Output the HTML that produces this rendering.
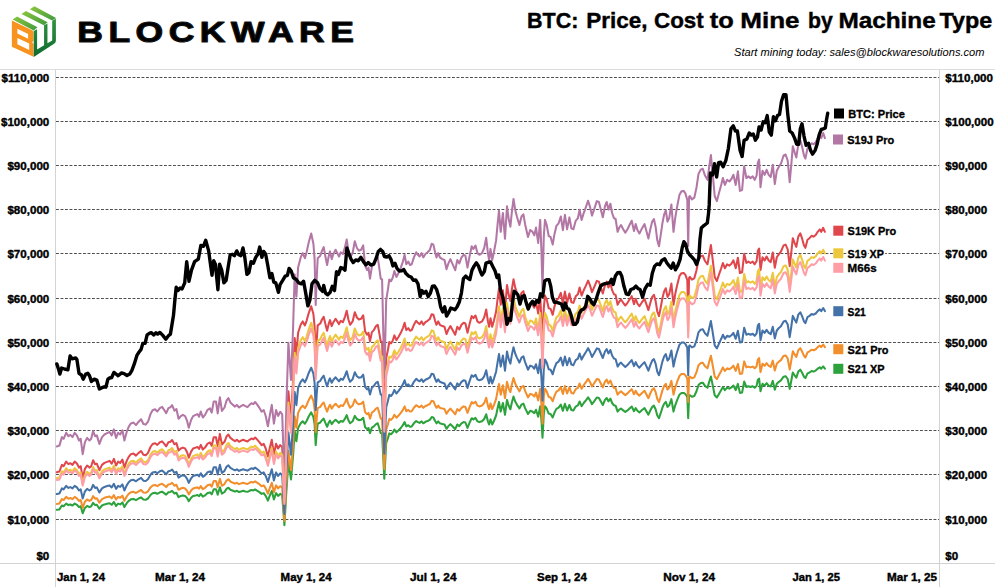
<!DOCTYPE html>
<html><head><meta charset="utf-8"><title>BTC: Price, Cost to Mine by Machine Type</title>
<style>
html,body{margin:0;padding:0;background:#fff;}
body{width:1000px;height:587px;overflow:hidden;font-family:"Liberation Sans",sans-serif;}
svg{display:block;}
text{font-family:"Liberation Sans",sans-serif;fill:#000;}
.ax{font-weight:bold;font-size:11.6px;stroke:#000;stroke-width:0.4px;}
.xl{font-weight:bold;font-size:11.3px;stroke:#000;stroke-width:0.4px;}
.lg{font-weight:bold;font-size:11.8px;stroke:#000;stroke-width:0.35px;}
.lh{font-weight:bold;font-size:11.8px;stroke:#fff;stroke-width:3.4px;stroke-linejoin:round;fill:#fff;}
.ln{fill:none;stroke-linejoin:round;stroke-linecap:round;stroke-width:2.05;}
</style></head><body>
<svg width="1000" height="587" viewBox="0 0 1000 587">
<rect width="1000" height="587" fill="#fff"/>
<defs>
<linearGradient id="gt" x1="0" y1="0" x2="1" y2="1"><stop offset="0" stop-color="#8cc63f"/><stop offset="1" stop-color="#3f9b3c"/></linearGradient>
<linearGradient id="gs" x1="0" y1="0" x2="0" y2="1"><stop offset="0" stop-color="#2f9440"/><stop offset="1" stop-color="#0f6b30"/></linearGradient>
</defs>
<g transform="translate(5,0) scale(0.1056)">
<path fill="#f7931e" fill-rule="evenodd" d="M65,195 L262,290 L270,302 L270,385 L257,400 L270,416 L270,538 L65,442 Z M117,272 L219,321 L219,367 L117,318 Z M117,359 L229,413 L229,473 L117,419 Z"/>
<path fill="url(#gt)" d="M72,184 L114,156 L308,258 L272,290 Z"/>
<path fill="url(#gt)" d="M156,133 L198,105 L404,211 L368,238 Z"/>
<path fill="url(#gt)" d="M236,88 L278,60 L484,170 L447,194 Z"/>
<path fill="url(#gs)" d="M272,294 L304,276 L304,468 L370,428 L370,240 L402,222 L402,410 L447,383 L447,196 L482,178 L482,385 Q482,402 468,412 L272,540 Z"/>
</g>
<g transform="translate(77.3,42.2) scale(1.215,1)"><text x="0" y="0" font-size="29.2" font-weight="bold" textLength="227.6" lengthAdjust="spacing" stroke="#111" stroke-width="1.1" stroke-linejoin="round" fill="#111">BLOCKWARE</text></g>
<text x="527.0" y="28.4" font-size="21.8" font-weight="bold" stroke="#000" stroke-width="0.4" textLength="51.4" lengthAdjust="spacingAndGlyphs">BTC:</text><text x="586.2" y="28.4" font-size="21.8" font-weight="bold" stroke="#000" stroke-width="0.4" textLength="61.3" lengthAdjust="spacingAndGlyphs">Price,</text><text x="654.0" y="28.4" font-size="21.8" font-weight="bold" stroke="#000" stroke-width="0.4" textLength="49.8" lengthAdjust="spacingAndGlyphs">Cost</text><text x="709.8" y="28.4" font-size="21.8" font-weight="bold" stroke="#000" stroke-width="0.4" textLength="24.0" lengthAdjust="spacingAndGlyphs">to</text><text x="740.3" y="28.4" font-size="21.8" font-weight="bold" stroke="#000" stroke-width="0.4" textLength="59.3" lengthAdjust="spacingAndGlyphs">Mine</text><text x="808.0" y="28.4" font-size="21.8" font-weight="bold" stroke="#000" stroke-width="0.4" textLength="24.8" lengthAdjust="spacingAndGlyphs">by</text><text x="838.4" y="28.4" font-size="21.8" font-weight="bold" stroke="#000" stroke-width="0.4" textLength="97.4" lengthAdjust="spacingAndGlyphs">Machine</text><text x="939.5" y="28.4" font-size="21.8" font-weight="bold" stroke="#000" stroke-width="0.4" textLength="52.8" lengthAdjust="spacingAndGlyphs">Type</text>
<text x="734" y="55.8" font-size="11.8" font-style="italic" textLength="250.5" lengthAdjust="spacingAndGlyphs" fill="#111">Start mining today: sales@blockwaresolutions.com</text>
<g stroke="#d3d3d3" stroke-width="1" fill="none" shape-rendering="crispEdges"><line x1="0" y1="69.5" x2="995" y2="69.5" stroke="#dcdcdc"/><line x1="0" y1="563.5" x2="995" y2="563.5"/><line x1="55.5" y1="69.5" x2="55.5" y2="587"/><line x1="939.5" y1="69.5" x2="939.5" y2="587"/></g>
<g stroke="#505050" stroke-width="1.2" stroke-dasharray="2.9 1.6" fill="none"><line x1="56" y1="77.5" x2="939" y2="77.5"/><line x1="56" y1="121.5" x2="939" y2="121.5"/><line x1="56" y1="165.5" x2="939" y2="165.5"/><line x1="56" y1="209.5" x2="939" y2="209.5"/><line x1="56" y1="253.5" x2="939" y2="253.5"/><line x1="56" y1="298.5" x2="939" y2="298.5"/><line x1="56" y1="342.5" x2="939" y2="342.5"/><line x1="56" y1="386.5" x2="939" y2="386.5"/><line x1="56" y1="430.5" x2="939" y2="430.5"/><line x1="56" y1="474.5" x2="939" y2="474.5"/><line x1="56" y1="519.5" x2="939" y2="519.5"/></g>
<text class="ax" x="49.3" y="81.6" text-anchor="end">$110,000</text><text class="ax" x="945.3" y="81.6">$110,000</text><text class="ax" x="49.3" y="125.6" text-anchor="end">$100,000</text><text class="ax" x="945.3" y="125.6">$100,000</text><text class="ax" x="49.3" y="169.6" text-anchor="end">$90,000</text><text class="ax" x="945.3" y="169.6">$90,000</text><text class="ax" x="49.3" y="213.6" text-anchor="end">$80,000</text><text class="ax" x="945.3" y="213.6">$80,000</text><text class="ax" x="49.3" y="257.6" text-anchor="end">$70,000</text><text class="ax" x="945.3" y="257.6">$70,000</text><text class="ax" x="49.3" y="302.6" text-anchor="end">$60,000</text><text class="ax" x="945.3" y="302.6">$60,000</text><text class="ax" x="49.3" y="346.6" text-anchor="end">$50,000</text><text class="ax" x="945.3" y="346.6">$50,000</text><text class="ax" x="49.3" y="390.6" text-anchor="end">$40,000</text><text class="ax" x="945.3" y="390.6">$40,000</text><text class="ax" x="49.3" y="434.6" text-anchor="end">$30,000</text><text class="ax" x="945.3" y="434.6">$30,000</text><text class="ax" x="49.3" y="478.6" text-anchor="end">$20,000</text><text class="ax" x="945.3" y="478.6">$20,000</text><text class="ax" x="49.3" y="523.6" text-anchor="end">$10,000</text><text class="ax" x="945.3" y="523.6">$10,000</text><text class="ax" x="49.3" y="560.3" text-anchor="end">$0</text><text class="ax" x="945.3" y="560.3">$0</text>
<text class="xl" x="57" y="581" textLength="48.0" lengthAdjust="spacingAndGlyphs">Jan 1, 24</text><text class="xl" x="155" y="581" textLength="50.0" lengthAdjust="spacingAndGlyphs">Mar 1, 24</text><text class="xl" x="280.6" y="581" textLength="51.0" lengthAdjust="spacingAndGlyphs">May 1, 24</text><text class="xl" x="409.9" y="581" textLength="46.6" lengthAdjust="spacingAndGlyphs">Jul 1, 24</text><text class="xl" x="537.1" y="581" textLength="49.7" lengthAdjust="spacingAndGlyphs">Sep 1, 24</text><text class="xl" x="663.3" y="581" textLength="51.7" lengthAdjust="spacingAndGlyphs">Nov 1, 24</text><text class="xl" x="792.6" y="581" textLength="47.4" lengthAdjust="spacingAndGlyphs">Jan 1, 25</text><text class="xl" x="887" y="581" textLength="50.0" lengthAdjust="spacingAndGlyphs">Mar 1, 25</text>
<path class="ln" stroke="#2ca23c" d="M56.8,509.8 L59.4,509.4 L61.9,505.5 L63.6,506.3 L66.2,503.6 L68.4,505.1 L70.4,504.5 L72.5,505.5 L74.7,503.6 L76.9,504.8 L79.0,507.1 L80.7,506.3 L82.7,513.3 L84.9,507.9 L87.1,505.9 L89.5,507.1 L91.2,506.3 L93.1,502.8 L95.1,505.1 L96.8,504.8 L99.4,508.7 L102.0,505.5 L104.5,504.4 L107.1,503.8 L109.6,503.2 L111.7,504.8 L113.9,502.0 L116.1,505.9 L118.1,503.6 L120.2,504.4 L122.4,502.4 L124.4,507.1 L126.7,503.2 L128.7,500.8 L130.9,499.3 L133.5,498.9 L136.0,500.1 L138.6,498.5 L141.1,497.4 L143.4,499.6 L145.7,499.8 L148.0,498.5 L150.5,495.0 L152.6,493.3 L155.1,492.8 L157.3,493.8 L159.9,492.3 L162.1,491.7 L164.1,493.1 L166.2,494.6 L168.4,492.3 L170.4,491.9 L172.1,490.9 L174.4,493.5 L176.4,492.7 L178.6,497.2 L180.8,495.9 L182.9,495.4 L185.1,495.9 L187.1,498.1 L188.8,501.2 L191.1,497.7 L193.1,495.9 L195.7,495.4 L197.4,495.0 L199.1,496.2 L200.8,493.8 L202.8,496.6 L205.0,495.4 L207.6,493.1 L210.0,492.4 L211.7,494.3 L213.7,489.3 L216.0,489.3 L217.7,494.7 L219.9,487.3 L221.9,493.6 L224.5,492.0 L226.5,488.9 L228.4,487.7 L230.4,489.7 L233.0,490.8 L235.0,491.6 L236.9,490.8 L239.0,492.0 L241.0,491.4 L243.2,490.8 L245.4,491.4 L247.5,491.8 L249.5,490.8 L251.4,490.0 L253.4,490.4 L255.1,489.5 L257.4,490.8 L259.4,492.1 L261.6,493.9 L263.7,493.1 L265.7,495.9 L267.9,500.6 L270.0,495.1 L271.8,490.8 L273.9,499.4 L276.1,493.1 L278.1,495.9 L280.2,493.9 L282.2,495.1 L284.4,525.2 L286.4,490.9 L288.4,462.3 L291.0,479.4 L293.0,456.5 L294.7,431.1 L296.4,441.3 L298.1,428.0 L300.7,423.3 L302.7,421.3 L304.9,423.7 L306.6,421.0 L308.8,416.3 L311.2,412.4 L313.4,417.0 L314.6,424.1 L315.7,445.1 L316.8,431.9 L317.7,423.7 L320.3,422.5 L322.0,420.2 L323.7,418.6 L325.4,422.9 L327.1,426.8 L328.8,422.5 L330.0,420.6 L331.7,424.1 L333.4,421.8 L335.6,419.8 L337.3,421.3 L339.0,422.9 L340.7,421.0 L342.9,421.8 L345.0,418.6 L346.7,415.1 L348.4,420.2 L350.1,423.3 L352.6,421.3 L354.8,415.9 L356.9,419.0 L358.9,420.2 L361.1,419.8 L363.2,417.8 L365.1,427.2 L367.1,429.1 L368.5,428.0 L370.0,433.1 L371.9,427.6 L373.9,426.4 L376.0,424.1 L377.7,423.3 L379.0,427.2 L380.7,433.1 L382.1,433.4 L384.3,478.7 L386.2,442.8 L387.9,438.1 L389.3,433.4 L391.0,434.2 L392.7,432.6 L394.4,429.5 L396.4,432.3 L398.6,430.3 L400.8,428.0 L402.9,425.2 L404.6,422.1 L406.3,426.4 L408.3,425.2 L410.0,426.8 L411.7,426.4 L413.9,423.3 L416.2,421.0 L417.9,422.1 L419.6,422.9 L421.6,421.3 L423.3,423.3 L425.4,421.8 L427.6,421.0 L429.8,419.9 L431.7,417.1 L433.4,417.5 L435.1,421.0 L436.5,423.3 L438.2,421.3 L439.9,423.3 L442.3,424.1 L444.5,424.5 L446.5,428.8 L448.4,426.1 L450.4,424.1 L453.0,426.8 L455.2,429.2 L457.3,424.5 L459.3,426.1 L461.5,423.3 L463.6,422.1 L465.4,422.5 L467.5,428.0 L469.5,422.9 L471.7,418.2 L473.4,419.4 L475.5,417.9 L477.4,421.3 L479.4,422.1 L482.0,421.3 L484.2,419.0 L486.2,414.3 L487.9,421.3 L489.1,424.5 L490.5,419.4 L492.2,424.5 L493.9,421.0 L496.1,415.5 L497.6,408.1 L499.0,401.9 L500.7,411.6 L502.9,403.0 L505.0,414.8 L507.0,399.9 L508.7,405.8 L510.4,409.3 L511.8,402.7 L513.5,396.6 L515.2,401.5 L516.9,404.6 L519.4,408.5 L521.5,404.6 L523.4,403.6 L525.1,408.1 L528.0,414.0 L530.2,410.8 L532.2,411.4 L534.3,413.2 L536.0,409.7 L538.2,416.7 L540.2,406.2 L541.4,419.9 L542.5,437.8 L543.8,413.6 L545.0,406.2 L546.7,408.5 L548.7,413.6 L550.6,414.0 L552.7,417.5 L554.4,412.8 L556.4,408.9 L558.6,407.7 L560.8,404.6 L562.9,410.8 L564.9,403.8 L567.1,410.5 L569.4,405.0 L571.4,410.0 L573.4,410.5 L575.7,406.6 L577.9,405.4 L579.6,401.5 L581.6,406.2 L583.7,403.0 L585.9,400.3 L588.1,397.4 L590.1,400.3 L592.0,404.2 L594.3,401.1 L596.8,397.5 L598.9,398.0 L600.6,401.1 L602.8,405.0 L605.0,399.9 L606.7,398.0 L608.4,401.4 L610.4,398.7 L612.1,403.0 L613.9,405.3 L615.6,405.7 L617.6,411.6 L619.3,409.6 L621.0,408.5 L623.2,410.4 L625.3,412.0 L627.5,410.4 L629.5,408.5 L631.7,406.5 L634.0,411.2 L635.7,408.1 L637.4,410.8 L639.4,412.4 L642.0,410.0 L644.5,408.1 L646.6,411.6 L648.4,414.7 L650.5,410.0 L652.2,406.9 L653.9,405.7 L655.6,409.3 L657.3,415.5 L659.0,418.2 L660.7,413.2 L662.4,407.7 L664.1,403.8 L665.8,401.8 L667.5,406.9 L669.2,405.3 L671.4,399.1 L673.5,411.6 L675.2,405.3 L677.2,399.9 L679.4,394.8 L681.5,393.0 L683.7,392.9 L685.4,394.0 L687.3,397.0 L688.2,418.1 L689.1,395.7 L689.9,395.2 L691.9,396.8 L694.3,396.0 L696.5,391.3 L698.5,385.1 L700.7,383.1 L702.8,382.7 L705.0,385.9 L707.5,387.8 L709.2,381.9 L710.9,376.5 L712.7,385.1 L714.7,395.2 L716.9,397.5 L719.1,393.7 L721.2,390.1 L722.9,387.0 L724.9,390.1 L727.1,387.8 L729.4,388.6 L731.4,387.4 L733.4,385.5 L735.7,390.1 L737.9,383.9 L739.9,392.9 L742.1,392.5 L744.2,381.6 L746.4,387.0 L748.4,386.2 L750.5,387.0 L752.7,386.2 L754.7,387.8 L756.6,385.9 L757.8,380.0 L759.1,378.6 L760.5,391.2 L762.5,383.7 L764.6,385.6 L766.6,383.2 L768.7,385.6 L770.7,386.5 L772.8,380.9 L774.8,389.8 L776.8,383.7 L778.9,381.8 L780.9,380.4 L783.6,376.7 L785.6,376.2 L787.7,379.0 L789.7,388.9 L791.1,381.8 L792.8,372.5 L794.6,375.3 L796.3,377.6 L798.3,371.6 L800.3,369.7 L802.0,372.5 L804.0,376.7 L805.4,378.1 L807.5,373.4 L809.5,372.5 L811.6,371.1 L813.6,371.6 L815.7,370.6 L817.7,368.7 L819.8,367.3 L821.2,368.7 L823.2,366.4 L824.9,368.7"/>
<path class="ln" stroke="#f28e2b" d="M56.8,503.9 L59.4,503.5 L61.9,499.1 L63.6,500.0 L66.2,496.9 L68.4,498.7 L70.4,498.0 L72.5,499.1 L74.7,496.9 L76.9,498.3 L79.0,500.9 L80.7,500.0 L82.7,507.8 L84.9,501.7 L87.1,499.5 L89.5,500.9 L91.2,500.0 L93.1,496.1 L95.1,498.7 L96.8,498.3 L99.4,502.6 L102.0,499.1 L104.5,497.8 L107.1,497.1 L109.6,496.5 L111.7,498.3 L113.9,495.2 L116.1,499.5 L118.1,496.9 L120.2,497.8 L122.4,495.7 L124.4,500.9 L126.7,496.5 L128.7,493.9 L130.9,492.2 L133.5,491.8 L136.0,493.0 L138.6,491.3 L141.1,490.0 L143.4,492.5 L145.7,492.8 L148.0,491.3 L150.5,487.4 L152.6,485.5 L155.1,485.0 L157.3,486.1 L159.9,484.4 L162.1,483.8 L164.1,485.2 L166.2,487.0 L168.4,484.4 L170.4,484.0 L172.1,482.9 L174.4,485.7 L176.4,484.8 L178.6,489.8 L180.8,488.5 L182.9,487.8 L185.1,488.5 L187.1,490.9 L188.8,494.4 L191.1,490.4 L193.1,488.5 L195.7,487.8 L197.4,487.4 L199.1,488.7 L200.8,486.1 L202.8,489.2 L205.0,487.8 L207.6,485.2 L210.0,484.5 L211.7,486.7 L213.7,481.0 L216.0,481.0 L217.7,487.1 L219.9,478.9 L221.9,485.8 L224.5,484.1 L226.5,480.6 L228.4,479.3 L230.4,481.5 L233.0,482.8 L235.0,483.6 L236.9,482.8 L239.0,484.1 L241.0,483.4 L243.2,482.8 L245.4,483.4 L247.5,483.9 L249.5,482.8 L251.4,481.9 L253.4,482.4 L255.1,481.3 L257.4,482.8 L259.4,484.2 L261.6,486.2 L263.7,485.4 L265.7,488.4 L267.9,493.6 L270.0,487.5 L271.8,482.8 L273.9,492.3 L276.1,485.4 L278.1,488.4 L280.2,486.2 L282.2,487.5 L284.4,520.9 L286.4,482.8 L288.4,451.1 L291.0,470.1 L293.0,444.7 L294.7,416.4 L296.4,427.7 L298.1,412.9 L300.7,407.8 L302.7,405.6 L304.9,408.2 L306.6,405.2 L308.8,399.9 L311.2,395.6 L313.4,400.8 L314.6,408.6 L315.7,432.0 L316.8,417.3 L317.7,408.2 L320.3,406.9 L322.0,404.3 L323.7,402.5 L325.4,407.3 L327.1,411.6 L328.8,406.9 L330.0,404.7 L331.7,408.6 L333.4,406.0 L335.6,403.8 L337.3,405.6 L339.0,407.3 L340.7,405.2 L342.9,406.0 L345.0,402.5 L346.7,398.7 L348.4,404.3 L350.1,407.8 L352.6,405.6 L354.8,399.5 L356.9,403.0 L358.9,404.3 L361.1,403.8 L363.2,401.7 L365.1,412.1 L367.1,414.2 L368.5,412.9 L370.0,418.6 L371.9,412.5 L373.9,411.2 L376.0,408.6 L377.7,407.8 L379.0,412.1 L380.7,418.6 L382.1,419.0 L384.3,469.3 L386.2,429.4 L387.9,424.2 L389.3,419.0 L391.0,419.9 L392.7,418.1 L394.4,414.7 L396.4,417.7 L398.6,415.5 L400.8,412.9 L402.9,409.9 L404.6,406.4 L406.3,411.2 L408.3,409.9 L410.0,411.6 L411.7,411.2 L413.9,407.8 L416.2,405.2 L417.9,406.4 L419.6,407.3 L421.6,405.6 L423.3,407.8 L425.4,406.0 L427.6,405.2 L429.8,404.0 L431.7,400.8 L433.4,401.2 L435.1,405.2 L436.5,407.8 L438.2,405.6 L439.9,407.8 L442.3,408.6 L444.5,409.1 L446.5,413.8 L448.4,410.8 L450.4,408.6 L453.0,411.7 L455.2,414.3 L457.3,409.1 L459.3,410.8 L461.5,407.8 L463.6,406.4 L465.4,406.9 L467.5,412.9 L469.5,407.4 L471.7,402.1 L473.4,403.4 L475.5,401.7 L477.4,405.6 L479.4,406.4 L482.0,405.6 L484.2,403.0 L486.2,397.8 L487.9,405.6 L489.1,409.1 L490.5,403.4 L492.2,409.1 L493.9,405.2 L496.1,399.1 L497.6,390.9 L499.0,384.0 L500.7,394.7 L502.9,385.2 L505.0,398.2 L507.0,381.8 L508.7,388.3 L510.4,392.1 L511.8,384.8 L513.5,378.1 L515.2,383.5 L516.9,387.0 L519.4,391.3 L521.5,387.0 L523.4,385.8 L525.1,390.9 L528.0,397.4 L530.2,393.9 L532.2,394.5 L534.3,396.5 L536.0,392.6 L538.2,400.4 L540.2,388.7 L541.4,404.0 L542.5,423.8 L543.8,396.9 L545.0,388.7 L546.7,391.3 L548.7,396.9 L550.6,397.4 L552.7,401.2 L554.4,396.1 L556.4,391.7 L558.6,390.4 L560.8,387.0 L562.9,393.9 L564.9,386.1 L567.1,393.5 L569.4,387.4 L571.4,393.0 L573.4,393.5 L575.7,389.1 L577.9,387.8 L579.6,383.5 L581.6,388.7 L583.7,385.2 L585.9,382.2 L588.1,378.9 L590.1,382.2 L592.0,386.5 L594.3,383.0 L596.8,379.1 L598.9,379.6 L600.6,383.0 L602.8,387.4 L605.0,381.7 L606.7,379.6 L608.4,383.5 L610.4,380.5 L612.1,385.2 L613.9,387.8 L615.6,388.2 L617.6,394.7 L619.3,392.6 L621.0,391.3 L623.2,393.4 L625.3,395.1 L627.5,393.4 L629.5,391.3 L631.7,389.1 L634.0,394.3 L635.7,390.8 L637.4,393.9 L639.4,395.6 L642.0,393.0 L644.5,390.8 L646.6,394.7 L648.4,398.2 L650.5,393.0 L652.2,389.6 L653.9,388.2 L655.6,392.1 L657.3,399.1 L659.0,402.1 L660.7,396.5 L662.4,390.4 L664.1,386.0 L665.8,383.9 L667.5,389.6 L669.2,387.8 L671.4,380.9 L673.5,394.7 L675.2,387.8 L677.2,381.7 L679.4,376.1 L681.5,374.1 L683.7,373.9 L685.4,375.2 L687.3,378.6 L688.2,402.0 L689.1,377.0 L689.9,376.5 L691.9,378.3 L694.3,377.4 L696.5,372.2 L698.5,365.3 L700.7,363.1 L702.8,362.7 L705.0,366.2 L707.5,368.3 L709.2,361.8 L710.9,355.7 L712.7,365.3 L714.7,376.5 L716.9,379.1 L719.1,374.8 L721.2,370.9 L722.9,367.4 L724.9,370.9 L727.1,368.3 L729.4,369.2 L731.4,367.9 L733.4,365.7 L735.7,370.9 L737.9,364.0 L739.9,373.9 L742.1,373.5 L744.2,361.4 L746.4,367.4 L748.4,366.6 L750.5,367.4 L752.7,366.6 L754.7,368.3 L756.6,366.2 L757.8,359.7 L759.1,358.0 L760.5,372.1 L762.5,363.7 L764.6,365.8 L766.6,363.2 L768.7,365.8 L770.7,366.9 L772.8,360.6 L774.8,370.5 L776.8,363.7 L778.9,361.6 L780.9,360.1 L783.6,355.9 L785.6,355.4 L787.7,358.5 L789.7,369.5 L791.1,361.6 L792.8,351.3 L794.6,354.4 L796.3,357.0 L798.3,350.2 L800.3,348.2 L802.0,351.3 L804.0,355.9 L805.4,357.5 L807.5,352.3 L809.5,351.3 L811.6,349.7 L813.6,350.2 L815.7,349.2 L817.7,347.1 L819.8,345.6 L821.2,347.1 L823.2,344.5 L824.9,347.1"/>
<path class="ln" stroke="#4472a8" d="M56.8,494.0 L59.4,493.5 L61.9,488.4 L63.6,489.4 L66.2,485.9 L68.4,487.9 L70.4,487.1 L72.5,488.4 L74.7,485.9 L76.9,487.4 L79.0,490.5 L80.7,489.4 L82.7,498.5 L84.9,491.5 L87.1,488.9 L89.5,490.5 L91.2,489.4 L93.1,484.9 L95.1,487.9 L96.8,487.4 L99.4,492.5 L102.0,488.4 L104.5,486.9 L107.1,486.1 L109.6,485.4 L111.7,487.4 L113.9,483.9 L116.1,488.9 L118.1,485.9 L120.2,486.9 L122.4,484.4 L124.4,490.5 L126.7,485.4 L128.7,482.3 L130.9,480.3 L133.5,479.8 L136.0,481.3 L138.6,479.3 L141.1,477.8 L143.4,480.7 L145.7,481.0 L148.0,479.3 L150.5,474.8 L152.6,472.5 L155.1,471.9 L157.3,473.2 L159.9,471.2 L162.1,470.5 L164.1,472.2 L166.2,474.3 L168.4,471.2 L170.4,470.8 L172.1,469.5 L174.4,472.8 L176.4,471.8 L178.6,477.6 L180.8,476.0 L182.9,475.3 L185.1,476.0 L187.1,478.8 L188.8,482.9 L191.1,478.3 L193.1,476.0 L195.7,475.3 L197.4,474.8 L199.1,476.3 L200.8,473.2 L202.8,476.8 L205.0,475.3 L207.6,472.2 L210.0,471.4 L211.7,473.9 L213.7,467.3 L216.0,467.3 L217.7,474.4 L219.9,464.8 L221.9,472.9 L224.5,470.9 L226.5,466.8 L228.4,465.3 L230.4,467.9 L233.0,469.3 L235.0,470.3 L236.9,469.3 L239.0,470.9 L241.0,470.0 L243.2,469.3 L245.4,470.0 L247.5,470.6 L249.5,469.3 L251.4,468.3 L253.4,468.9 L255.1,467.6 L257.4,469.3 L259.4,471.1 L261.6,473.4 L263.7,472.4 L265.7,475.9 L267.9,482.0 L270.0,474.9 L271.8,469.3 L273.9,480.5 L276.1,472.4 L278.1,475.9 L280.2,473.4 L282.2,474.9 L284.4,513.9 L286.4,469.4 L288.4,432.4 L291.0,454.6 L293.0,424.9 L294.7,391.9 L296.4,405.1 L298.1,387.9 L300.7,381.8 L302.7,379.3 L304.9,382.3 L306.6,378.8 L308.8,372.7 L311.2,367.7 L313.4,373.7 L314.6,382.8 L315.7,410.1 L316.8,392.9 L317.7,382.3 L320.3,380.8 L322.0,377.8 L323.7,375.7 L325.4,381.3 L327.1,386.3 L328.8,380.8 L330.0,378.3 L331.7,382.8 L333.4,379.8 L335.6,377.3 L337.3,379.3 L339.0,381.3 L340.7,378.8 L342.9,379.8 L345.0,375.7 L346.7,371.2 L348.4,377.8 L350.1,381.8 L352.6,379.3 L354.8,372.2 L356.9,376.3 L358.9,377.8 L361.1,377.3 L363.2,374.7 L365.1,386.9 L367.1,389.4 L368.5,387.9 L370.0,394.5 L371.9,387.4 L373.9,385.9 L376.0,382.8 L377.7,381.8 L379.0,386.9 L380.7,394.5 L382.1,394.9 L384.3,453.7 L386.2,407.1 L387.9,401.0 L389.3,394.9 L391.0,396.0 L392.7,393.9 L394.4,389.9 L396.4,393.5 L398.6,390.9 L400.8,387.9 L402.9,384.3 L404.6,380.3 L406.3,385.9 L408.3,384.3 L410.0,386.3 L411.7,385.9 L413.9,381.8 L416.2,378.8 L417.9,380.3 L419.6,381.3 L421.6,379.3 L423.3,381.8 L425.4,379.8 L427.6,378.8 L429.8,377.4 L431.7,373.8 L433.4,374.2 L435.1,378.8 L436.5,381.8 L438.2,379.3 L439.9,381.8 L442.3,382.8 L444.5,383.4 L446.5,388.9 L448.4,385.4 L450.4,382.8 L453.0,386.4 L455.2,389.4 L457.3,383.4 L459.3,385.4 L461.5,381.8 L463.6,380.3 L465.4,380.8 L467.5,387.9 L469.5,381.4 L471.7,375.2 L473.4,376.8 L475.5,374.8 L477.4,379.3 L479.4,380.3 L482.0,379.3 L484.2,376.3 L486.2,370.2 L487.9,379.3 L489.1,383.4 L490.5,376.8 L492.2,383.4 L493.9,378.8 L496.1,371.7 L497.6,362.1 L499.0,354.1 L500.7,366.6 L502.9,355.6 L505.0,370.7 L507.0,351.5 L508.7,359.1 L510.4,363.6 L511.8,355.1 L513.5,347.2 L515.2,353.5 L516.9,357.6 L519.4,362.6 L521.5,357.6 L523.4,356.3 L525.1,362.1 L528.0,369.7 L530.2,365.6 L532.2,366.4 L534.3,368.7 L536.0,364.2 L538.2,373.2 L540.2,359.6 L541.4,377.4 L542.5,400.6 L543.8,369.2 L545.0,359.6 L546.7,362.6 L548.7,369.2 L550.6,369.7 L552.7,374.2 L554.4,368.2 L556.4,363.1 L558.6,361.6 L560.8,357.6 L562.9,365.6 L564.9,356.6 L567.1,365.2 L569.4,358.1 L571.4,364.6 L573.4,365.2 L575.7,360.1 L577.9,358.6 L579.6,353.5 L581.6,359.6 L583.7,355.6 L585.9,352.0 L588.1,348.2 L590.1,352.0 L592.0,357.0 L594.3,353.0 L596.8,348.4 L598.9,349.0 L600.6,353.0 L602.8,358.0 L605.0,351.5 L606.7,349.0 L608.4,353.5 L610.4,350.0 L612.1,355.5 L613.9,358.5 L615.6,359.1 L617.6,366.6 L619.3,364.1 L621.0,362.6 L623.2,365.1 L625.3,367.1 L627.5,365.1 L629.5,362.6 L631.7,360.1 L634.0,366.1 L635.7,362.1 L637.4,365.6 L639.4,367.7 L642.0,364.6 L644.5,362.1 L646.6,366.6 L648.4,370.7 L650.5,364.6 L652.2,360.6 L653.9,359.1 L655.6,363.6 L657.3,371.7 L659.0,375.2 L660.7,368.7 L662.4,361.6 L664.1,356.5 L665.8,354.0 L667.5,360.6 L669.2,358.5 L671.4,350.5 L673.5,366.6 L675.2,358.5 L677.2,351.5 L679.4,344.9 L681.5,342.6 L683.7,342.4 L685.4,343.9 L687.3,347.8 L688.2,375.1 L689.1,346.0 L689.9,345.4 L691.9,347.4 L694.3,346.4 L696.5,340.4 L698.5,332.3 L700.7,329.7 L702.8,329.2 L705.0,333.3 L707.5,335.8 L709.2,328.2 L710.9,321.1 L712.7,332.3 L714.7,345.4 L716.9,348.4 L719.1,343.4 L721.2,338.8 L722.9,334.8 L724.9,338.8 L727.1,335.8 L729.4,336.8 L731.4,335.3 L733.4,332.8 L735.7,338.8 L737.9,330.8 L739.9,342.4 L742.1,341.9 L744.2,327.7 L746.4,334.8 L748.4,333.8 L750.5,334.8 L752.7,333.8 L754.7,335.8 L756.6,333.3 L757.8,325.7 L759.1,323.8 L760.5,340.2 L762.5,330.5 L764.6,332.9 L766.6,329.9 L768.7,332.9 L770.7,334.1 L772.8,326.8 L774.8,338.4 L776.8,330.5 L778.9,328.0 L780.9,326.2 L783.6,321.4 L785.6,320.8 L787.7,324.4 L789.7,337.2 L791.1,328.0 L792.8,315.9 L794.6,319.5 L796.3,322.6 L798.3,314.7 L800.3,312.3 L802.0,315.9 L804.0,321.4 L805.4,323.2 L807.5,317.1 L809.5,315.9 L811.6,314.1 L813.6,314.7 L815.7,313.5 L817.7,311.1 L819.8,309.3 L821.2,311.1 L823.2,308.0 L824.9,311.1"/>
<path class="ln" stroke="#e0474c" d="M56.8,472.2 L59.4,471.5 L61.9,464.9 L63.6,466.2 L66.2,461.6 L68.4,464.2 L70.4,463.2 L72.5,464.9 L74.7,461.6 L76.9,463.6 L79.0,467.6 L80.7,466.2 L82.7,478.2 L84.9,468.9 L87.1,465.5 L89.5,467.6 L91.2,466.2 L93.1,460.2 L95.1,464.2 L96.8,463.6 L99.4,470.2 L102.0,464.9 L104.5,462.9 L107.1,461.9 L109.6,460.9 L111.7,463.6 L113.9,458.9 L116.1,465.5 L118.1,461.6 L120.2,462.9 L122.4,459.6 L124.4,467.6 L126.7,460.9 L128.7,456.9 L130.9,454.2 L133.5,453.6 L136.0,455.6 L138.6,452.9 L141.1,451.0 L143.4,454.7 L145.7,455.2 L148.0,452.9 L150.5,447.0 L152.6,444.0 L155.1,443.2 L157.3,444.9 L159.9,442.3 L162.1,441.4 L164.1,443.6 L166.2,446.3 L168.4,442.3 L170.4,441.7 L172.1,440.0 L174.4,444.3 L176.4,443.0 L178.6,450.6 L180.8,448.5 L182.9,447.6 L185.1,448.5 L187.1,452.3 L188.8,457.6 L191.1,451.6 L193.1,448.5 L195.7,447.6 L197.4,447.0 L199.1,448.9 L200.8,444.9 L202.8,449.6 L205.0,447.6 L207.6,443.6 L210.0,442.5 L211.7,445.8 L213.7,437.2 L216.0,437.2 L217.7,446.4 L219.9,433.9 L221.9,444.5 L224.5,441.8 L226.5,436.5 L228.4,434.5 L230.4,437.9 L233.0,439.8 L235.0,441.1 L236.9,439.8 L239.0,441.8 L241.0,440.7 L243.2,439.8 L245.4,440.7 L247.5,441.5 L249.5,439.8 L251.4,438.5 L253.4,439.2 L255.1,437.5 L257.4,439.8 L259.4,442.1 L261.6,445.1 L263.7,443.8 L265.7,448.5 L267.9,456.4 L270.0,447.1 L271.8,439.8 L273.9,454.5 L276.1,443.8 L278.1,448.5 L280.2,445.1 L282.2,447.1 L284.4,498.4 L286.4,439.9 L288.4,391.3 L291.0,420.4 L293.0,381.4 L294.7,338.1 L296.4,355.4 L298.1,332.8 L300.7,324.8 L302.7,321.4 L304.9,325.4 L306.6,320.8 L308.8,312.8 L311.2,306.2 L313.4,314.1 L314.6,326.1 L315.7,361.9 L316.8,339.4 L317.7,325.4 L320.3,323.5 L322.0,319.5 L323.7,316.8 L325.4,324.1 L327.1,330.7 L328.8,323.5 L330.0,320.1 L331.7,326.1 L333.4,322.2 L335.6,318.8 L337.3,321.4 L339.0,324.1 L340.7,320.8 L342.9,322.2 L345.0,316.8 L346.7,310.8 L348.4,319.5 L350.1,324.8 L352.6,321.4 L354.8,312.2 L356.9,317.5 L358.9,319.5 L361.1,318.8 L363.2,315.4 L365.1,331.4 L367.1,334.7 L368.5,332.8 L370.0,341.4 L371.9,332.1 L373.9,330.1 L376.0,326.1 L377.7,324.8 L379.0,331.4 L380.7,341.4 L382.1,342.0 L384.3,419.2 L386.2,358.0 L387.9,350.0 L389.3,342.0 L391.0,343.4 L392.7,340.7 L394.4,335.4 L396.4,340.1 L398.6,336.7 L400.8,332.8 L402.9,328.1 L404.6,322.8 L406.3,330.1 L408.3,328.1 L410.0,330.7 L411.7,330.1 L413.9,324.8 L416.2,320.8 L417.9,322.8 L419.6,324.1 L421.6,321.4 L423.3,324.8 L425.4,322.2 L427.6,320.8 L429.8,319.0 L431.7,314.2 L433.4,314.8 L435.1,320.8 L436.5,324.8 L438.2,321.4 L439.9,324.8 L442.3,326.1 L444.5,326.8 L446.5,334.1 L448.4,329.5 L450.4,326.1 L453.0,330.8 L455.2,334.8 L457.3,326.8 L459.3,329.5 L461.5,324.8 L463.6,322.8 L465.4,323.5 L467.5,332.8 L469.5,324.2 L471.7,316.1 L473.4,318.2 L475.5,315.5 L477.4,321.4 L479.4,322.8 L482.0,321.4 L484.2,317.5 L486.2,309.5 L487.9,321.4 L489.1,326.8 L490.5,318.2 L492.2,326.8 L493.9,320.8 L496.1,311.5 L497.6,298.9 L499.0,288.3 L500.7,304.8 L502.9,290.3 L505.0,310.2 L507.0,285.0 L508.7,294.9 L510.4,300.9 L511.8,289.6 L513.5,279.3 L515.2,287.6 L516.9,292.9 L519.4,299.5 L521.5,292.9 L523.4,291.2 L525.1,298.9 L528.0,308.9 L530.2,303.5 L532.2,304.5 L534.3,307.6 L536.0,301.6 L538.2,313.5 L540.2,295.6 L541.4,319.0 L542.5,349.4 L543.8,308.2 L545.0,295.6 L546.7,299.5 L548.7,308.2 L550.6,308.9 L552.7,314.8 L554.4,306.9 L556.4,300.2 L558.6,298.2 L560.8,292.9 L562.9,303.5 L564.9,291.6 L567.1,302.9 L569.4,293.6 L571.4,302.2 L573.4,302.9 L575.7,296.3 L577.9,294.2 L579.6,287.6 L581.6,295.6 L583.7,290.3 L585.9,285.6 L588.1,280.6 L590.1,285.6 L592.0,292.2 L594.3,286.9 L596.8,280.9 L598.9,281.6 L600.6,286.9 L602.8,293.5 L605.0,284.9 L606.7,281.6 L608.4,287.5 L610.4,282.9 L612.1,290.2 L613.9,294.2 L615.6,294.9 L617.6,304.8 L619.3,301.5 L621.0,299.5 L623.2,302.8 L625.3,305.5 L627.5,302.8 L629.5,299.5 L631.7,296.2 L634.0,304.1 L635.7,298.8 L637.4,303.5 L639.4,306.2 L642.0,302.2 L644.5,298.8 L646.6,304.8 L648.4,310.1 L650.5,302.2 L652.2,296.9 L653.9,294.9 L655.6,300.9 L657.3,311.5 L659.0,316.1 L660.7,307.5 L662.4,298.2 L664.1,291.5 L665.8,288.2 L667.5,296.9 L669.2,294.2 L671.4,283.6 L673.5,304.8 L675.2,294.2 L677.2,284.9 L679.4,276.2 L681.5,273.2 L683.7,273.0 L685.4,274.9 L687.3,280.0 L688.2,315.9 L689.1,277.7 L689.9,276.9 L691.9,279.6 L694.3,278.3 L696.5,270.3 L698.5,259.7 L700.7,256.3 L702.8,255.6 L705.0,261.0 L707.5,264.3 L709.2,254.3 L710.9,245.0 L712.7,259.7 L714.7,276.9 L716.9,280.9 L719.1,274.3 L721.2,268.3 L722.9,263.0 L724.9,268.3 L727.1,264.3 L729.4,265.6 L731.4,263.7 L733.4,260.3 L735.7,268.3 L737.9,257.7 L739.9,273.0 L742.1,272.3 L744.2,253.7 L746.4,263.0 L748.4,261.6 L750.5,263.0 L752.7,261.6 L754.7,264.3 L756.6,261.0 L757.8,251.0 L759.1,248.6 L760.5,270.1 L762.5,257.3 L764.6,260.5 L766.6,256.5 L768.7,260.5 L770.7,262.1 L772.8,252.5 L774.8,267.7 L776.8,257.3 L778.9,254.1 L780.9,251.7 L783.6,245.4 L785.6,244.6 L787.7,249.3 L789.7,266.1 L791.1,254.1 L792.8,238.2 L794.6,242.9 L796.3,246.9 L798.3,236.6 L800.3,233.4 L802.0,238.2 L804.0,245.4 L805.4,247.8 L807.5,239.7 L809.5,238.2 L811.6,235.8 L813.6,236.6 L815.7,235.0 L817.7,231.8 L819.8,229.4 L821.2,231.8 L823.2,227.8 L824.9,231.8"/>
<path class="ln" stroke="#b377a6" d="M56.8,446.4 L59.4,445.6 L61.9,437.1 L63.6,438.8 L66.2,432.8 L68.4,436.2 L70.4,434.9 L72.5,437.1 L74.7,432.8 L76.9,435.4 L79.0,440.5 L80.7,438.8 L82.7,454.1 L84.9,442.2 L87.1,437.9 L89.5,440.5 L91.2,438.8 L93.1,431.1 L95.1,436.2 L96.8,435.4 L99.4,443.9 L102.0,437.1 L104.5,434.5 L107.1,433.2 L109.6,432.0 L111.7,435.4 L113.9,429.4 L116.1,437.9 L118.1,432.8 L120.2,434.5 L122.4,430.3 L124.4,440.5 L126.7,432.0 L128.7,426.8 L130.9,423.4 L133.5,422.6 L136.0,425.1 L138.6,421.7 L141.1,419.2 L143.4,424.0 L145.7,424.6 L148.0,421.7 L150.5,414.1 L152.6,410.3 L155.1,409.3 L157.3,411.5 L159.9,408.1 L162.1,406.9 L164.1,409.8 L166.2,413.2 L168.4,408.1 L170.4,407.3 L172.1,405.2 L174.4,410.7 L176.4,409.0 L178.6,418.8 L180.8,416.1 L182.9,414.9 L185.1,416.1 L187.1,420.9 L188.8,427.7 L191.1,420.0 L193.1,416.1 L195.7,414.9 L197.4,414.1 L199.1,416.6 L200.8,411.5 L202.8,417.5 L205.0,414.9 L207.6,409.8 L210.0,408.3 L211.7,412.6 L213.7,401.5 L216.0,401.5 L217.7,413.4 L219.9,397.3 L221.9,410.9 L224.5,407.5 L226.5,400.7 L228.4,398.1 L230.4,402.4 L233.0,404.9 L235.0,406.6 L236.9,404.9 L239.0,407.5 L241.0,406.1 L243.2,404.9 L245.4,406.1 L247.5,407.1 L249.5,404.9 L251.4,403.2 L253.4,404.1 L255.1,402.0 L257.4,404.9 L259.4,407.8 L261.6,411.7 L263.7,410.0 L265.7,416.0 L267.9,426.2 L270.0,414.3 L271.8,404.9 L273.9,423.7 L276.1,410.0 L278.1,416.0 L280.2,411.7 L282.2,414.3 L284.4,480.0 L286.4,405.0 L288.4,342.7 L291.0,380.0 L293.0,330.0 L294.7,274.4 L296.4,296.6 L298.1,267.6 L300.7,257.4 L302.7,253.1 L304.9,258.2 L306.6,252.3 L308.8,242.0 L311.2,233.5 L313.4,243.7 L314.6,259.1 L315.7,305.0 L316.8,276.1 L317.7,258.2 L320.3,255.7 L322.0,250.6 L323.7,247.1 L325.4,256.5 L327.1,265.0 L328.8,255.7 L330.0,251.4 L331.7,259.1 L333.4,254.0 L335.6,249.7 L337.3,253.1 L339.0,256.5 L340.7,252.3 L342.9,254.0 L345.0,247.1 L346.7,239.5 L348.4,250.6 L350.1,257.4 L352.6,253.1 L354.8,241.2 L356.9,248.0 L358.9,250.6 L361.1,249.7 L363.2,245.4 L365.1,265.9 L367.1,270.1 L368.5,267.6 L370.0,278.7 L371.9,266.7 L373.9,264.2 L376.0,259.1 L377.7,257.4 L379.0,265.9 L380.7,278.7 L382.1,279.5 L384.3,378.5 L386.2,300.0 L387.9,289.7 L389.3,279.5 L391.0,281.2 L392.7,277.8 L394.4,271.0 L396.4,277.0 L398.6,272.7 L400.8,267.6 L402.9,261.6 L404.6,254.8 L406.3,264.2 L408.3,261.6 L410.0,265.0 L411.7,264.2 L413.9,257.4 L416.2,252.3 L417.9,254.8 L419.6,256.5 L421.6,253.1 L423.3,257.4 L425.4,254.0 L427.6,252.3 L429.8,250.0 L431.7,243.8 L433.4,244.6 L435.1,252.3 L436.5,257.4 L438.2,253.1 L439.9,257.4 L442.3,259.1 L444.5,260.0 L446.5,269.3 L448.4,263.4 L450.4,259.1 L453.0,265.1 L455.2,270.2 L457.3,260.0 L459.3,263.4 L461.5,257.4 L463.6,254.8 L465.4,255.7 L467.5,267.6 L469.5,256.6 L471.7,246.3 L473.4,248.9 L475.5,245.5 L477.4,253.1 L479.4,254.8 L482.0,253.1 L484.2,248.0 L486.2,237.8 L487.9,253.1 L489.1,260.0 L490.5,248.9 L492.2,260.0 L493.9,252.3 L496.1,240.4 L497.6,224.2 L499.0,210.6 L500.7,231.8 L502.9,213.1 L505.0,238.7 L507.0,206.3 L508.7,219.1 L510.4,226.7 L511.8,212.3 L513.5,199.0 L515.2,209.7 L516.9,216.5 L519.4,225.0 L521.5,216.5 L523.4,214.3 L525.1,224.2 L528.0,237.0 L530.2,230.1 L532.2,231.3 L534.3,235.3 L536.0,227.6 L538.2,242.9 L540.2,219.9 L541.4,250.0 L542.5,289.0 L543.8,236.1 L545.0,219.9 L546.7,225.0 L548.7,236.1 L550.6,237.0 L552.7,244.6 L554.4,234.4 L556.4,225.9 L558.6,223.3 L560.8,216.5 L562.9,230.1 L564.9,214.8 L567.1,229.3 L569.4,217.4 L571.4,228.4 L573.4,229.3 L575.7,220.8 L577.9,218.2 L579.6,209.7 L581.6,219.9 L583.7,213.1 L585.9,207.1 L588.1,200.7 L590.1,207.1 L592.0,215.6 L594.3,208.8 L596.8,201.1 L598.9,202.0 L600.6,208.8 L602.8,217.3 L605.0,206.2 L606.7,202.0 L608.4,209.6 L610.4,203.7 L612.1,213.0 L613.9,218.1 L615.6,219.0 L617.6,231.8 L619.3,227.5 L621.0,225.0 L623.2,229.2 L625.3,232.6 L627.5,229.2 L629.5,225.0 L631.7,220.7 L634.0,230.9 L635.7,224.1 L637.4,230.1 L639.4,233.5 L642.0,228.4 L644.5,224.1 L646.6,231.8 L648.4,238.6 L650.5,228.4 L652.2,221.6 L653.9,219.0 L655.6,226.7 L657.3,240.3 L659.0,246.3 L660.7,235.2 L662.4,223.3 L664.1,214.7 L665.8,210.5 L667.5,221.6 L669.2,218.1 L671.4,204.5 L673.5,231.8 L675.2,218.1 L677.2,206.2 L679.4,195.1 L681.5,191.2 L683.7,190.9 L685.4,193.4 L687.3,200.0 L688.2,246.0 L689.1,197.0 L689.9,196.0 L691.9,199.4 L694.3,197.7 L696.5,187.5 L698.5,173.9 L700.7,169.6 L702.8,168.7 L705.0,175.6 L707.5,179.8 L709.2,167.0 L710.9,155.1 L712.7,173.9 L714.7,196.0 L716.9,201.1 L719.1,192.6 L721.2,184.9 L722.9,178.1 L724.9,184.9 L727.1,179.8 L729.4,181.5 L731.4,179.0 L733.4,174.7 L735.7,184.9 L737.9,171.3 L739.9,190.9 L742.1,190.0 L744.2,166.2 L746.4,178.1 L748.4,176.4 L750.5,178.1 L752.7,176.4 L754.7,179.8 L756.6,175.6 L757.8,162.8 L759.1,159.6 L760.5,187.2 L762.5,170.8 L764.6,174.9 L766.6,169.8 L768.7,174.9 L770.7,177.0 L772.8,164.7 L774.8,184.1 L776.8,170.8 L778.9,166.7 L780.9,163.7 L783.6,155.5 L785.6,154.5 L787.7,160.6 L789.7,182.1 L791.1,166.7 L792.8,146.3 L794.6,152.4 L796.3,157.5 L798.3,144.3 L800.3,140.2 L802.0,146.3 L804.0,155.5 L805.4,158.6 L807.5,148.3 L809.5,146.3 L811.6,143.2 L813.6,144.3 L815.7,142.2 L817.7,138.1 L819.8,135.1 L821.2,138.1 L823.2,133.0 L824.9,138.1"/>
<path class="ln" stroke="#edc83c" d="M56.8,478.1 L59.4,477.5 L61.9,471.3 L63.6,472.6 L66.2,468.2 L68.4,470.7 L70.4,469.7 L72.5,471.3 L74.7,468.2 L76.9,470.1 L79.0,473.8 L80.7,472.6 L82.7,483.7 L84.9,475.0 L87.1,471.9 L89.5,473.8 L91.2,472.6 L93.1,467.0 L95.1,470.7 L96.8,470.1 L99.4,476.3 L102.0,471.3 L104.5,469.4 L107.1,468.5 L109.6,467.6 L111.7,470.1 L113.9,465.7 L116.1,471.9 L118.1,468.2 L120.2,469.4 L122.4,466.4 L124.4,473.8 L126.7,467.6 L128.7,463.8 L130.9,461.3 L133.5,460.8 L136.0,462.6 L138.6,460.1 L141.1,458.3 L143.4,461.8 L145.7,462.2 L148.0,460.1 L150.5,454.6 L152.6,451.8 L155.1,451.1 L157.3,452.7 L159.9,450.2 L162.1,449.3 L164.1,451.4 L166.2,453.9 L168.4,450.2 L170.4,449.6 L172.1,448.1 L174.4,452.1 L176.4,450.8 L178.6,458.0 L180.8,456.0 L182.9,455.1 L185.1,456.0 L187.1,459.5 L188.8,464.5 L191.1,458.9 L193.1,456.0 L195.7,455.1 L197.4,454.6 L199.1,456.4 L200.8,452.7 L202.8,457.0 L205.0,455.1 L207.6,451.4 L210.0,450.3 L211.7,453.5 L213.7,445.4 L216.0,445.4 L217.7,454.1 L219.9,442.3 L221.9,452.2 L224.5,449.8 L226.5,444.8 L228.4,442.9 L230.4,446.0 L233.0,447.9 L235.0,449.1 L236.9,447.9 L239.0,449.8 L241.0,448.7 L243.2,447.9 L245.4,448.7 L247.5,449.5 L249.5,447.9 L251.4,446.6 L253.4,447.3 L255.1,445.7 L257.4,447.9 L259.4,450.0 L261.6,452.8 L263.7,451.6 L265.7,455.9 L267.9,463.4 L270.0,454.7 L271.8,447.9 L273.9,461.6 L276.1,451.6 L278.1,455.9 L280.2,452.8 L282.2,454.7 L284.4,502.6 L286.4,447.9 L288.4,402.5 L291.0,429.7 L293.0,393.3 L294.7,352.7 L296.4,368.9 L298.1,347.8 L300.7,340.4 L302.7,337.2 L304.9,340.9 L306.6,336.6 L308.8,329.1 L311.2,322.9 L313.4,330.4 L314.6,341.6 L315.7,375.0 L316.8,354.0 L317.7,340.9 L320.3,339.1 L322.0,335.4 L323.7,332.8 L325.4,339.7 L327.1,345.9 L328.8,339.1 L330.0,336.0 L331.7,341.6 L333.4,337.9 L335.6,334.7 L337.3,337.2 L339.0,339.7 L340.7,336.6 L342.9,337.9 L345.0,332.8 L346.7,327.3 L348.4,335.4 L350.1,340.4 L352.6,337.2 L354.8,328.5 L356.9,333.5 L358.9,335.4 L361.1,334.7 L363.2,331.6 L365.1,346.6 L367.1,349.6 L368.5,347.8 L370.0,355.9 L371.9,347.1 L373.9,345.3 L376.0,341.6 L377.7,340.4 L379.0,346.6 L380.7,355.9 L382.1,356.5 L384.3,428.6 L386.2,371.4 L387.9,363.9 L389.3,356.5 L391.0,357.7 L392.7,355.2 L394.4,350.3 L396.4,354.6 L398.6,351.5 L400.8,347.8 L402.9,343.4 L404.6,338.5 L406.3,345.3 L408.3,343.4 L410.0,345.9 L411.7,345.3 L413.9,340.4 L416.2,336.6 L417.9,338.5 L419.6,339.7 L421.6,337.2 L423.3,340.4 L425.4,337.9 L427.6,336.6 L429.8,335.0 L431.7,330.4 L433.4,331.0 L435.1,336.6 L436.5,340.4 L438.2,337.2 L439.9,340.4 L442.3,341.6 L444.5,342.3 L446.5,349.0 L448.4,344.7 L450.4,341.6 L453.0,346.0 L455.2,349.7 L457.3,342.3 L459.3,344.7 L461.5,340.4 L463.6,338.5 L465.4,339.1 L467.5,347.8 L469.5,339.8 L471.7,332.3 L473.4,334.2 L475.5,331.7 L477.4,337.2 L479.4,338.5 L482.0,337.2 L484.2,333.5 L486.2,326.1 L487.9,337.2 L489.1,342.3 L490.5,334.2 L492.2,342.3 L493.9,336.6 L496.1,328.0 L497.6,316.2 L499.0,306.2 L500.7,321.7 L502.9,308.1 L505.0,326.7 L507.0,303.1 L508.7,312.4 L510.4,318.0 L511.8,307.5 L513.5,297.8 L515.2,305.6 L516.9,310.5 L519.4,316.7 L521.5,310.5 L523.4,308.9 L525.1,316.2 L528.0,325.5 L530.2,320.5 L532.2,321.3 L534.3,324.2 L536.0,318.6 L538.2,329.8 L540.2,313.0 L541.4,335.0 L542.5,363.4 L543.8,324.8 L545.0,313.0 L546.7,316.7 L548.7,324.8 L550.6,325.5 L552.7,331.0 L554.4,323.6 L556.4,317.4 L558.6,315.5 L560.8,310.5 L562.9,320.5 L564.9,309.3 L567.1,319.9 L569.4,311.2 L571.4,319.2 L573.4,319.9 L575.7,313.7 L577.9,311.8 L579.6,305.6 L581.6,313.0 L583.7,308.1 L585.9,303.7 L588.1,299.0 L590.1,303.7 L592.0,309.9 L594.3,304.9 L596.8,299.3 L598.9,300.0 L600.6,304.9 L602.8,311.1 L605.0,303.0 L606.7,300.0 L608.4,305.5 L610.4,301.2 L612.1,308.0 L613.9,311.7 L615.6,312.4 L617.6,321.7 L619.3,318.6 L621.0,316.7 L623.2,319.8 L625.3,322.3 L627.5,319.8 L629.5,316.7 L631.7,313.6 L634.0,321.0 L635.7,316.1 L637.4,320.5 L639.4,322.9 L642.0,319.2 L644.5,316.1 L646.6,321.7 L648.4,326.7 L650.5,319.2 L652.2,314.3 L653.9,312.4 L655.6,318.0 L657.3,327.9 L659.0,332.3 L660.7,324.2 L662.4,315.5 L664.1,309.2 L665.8,306.2 L667.5,314.3 L669.2,311.7 L671.4,301.8 L673.5,321.7 L675.2,311.7 L677.2,303.0 L679.4,295.0 L681.5,292.1 L683.7,291.9 L685.4,293.7 L687.3,298.5 L688.2,332.0 L689.1,296.3 L689.9,295.6 L691.9,298.1 L694.3,296.8 L696.5,289.4 L698.5,279.5 L700.7,276.4 L702.8,275.7 L705.0,280.7 L707.5,283.8 L709.2,274.5 L710.9,265.8 L712.7,279.5 L714.7,295.6 L716.9,299.3 L719.1,293.1 L721.2,287.5 L722.9,282.6 L724.9,287.5 L727.1,283.8 L729.4,285.0 L731.4,283.2 L733.4,280.1 L735.7,287.5 L737.9,277.6 L739.9,291.9 L742.1,291.2 L744.2,273.9 L746.4,282.6 L748.4,281.3 L750.5,282.6 L752.7,281.3 L754.7,283.8 L756.6,280.7 L757.8,271.4 L759.1,269.1 L760.5,289.2 L762.5,277.2 L764.6,280.2 L766.6,276.5 L768.7,280.2 L770.7,281.8 L772.8,272.8 L774.8,286.9 L776.8,277.2 L778.9,274.3 L780.9,272.1 L783.6,266.1 L785.6,265.4 L787.7,269.8 L789.7,285.5 L791.1,274.3 L792.8,259.4 L794.6,263.8 L796.3,267.5 L798.3,257.9 L800.3,254.9 L802.0,259.4 L804.0,266.1 L805.4,268.3 L807.5,260.8 L809.5,259.4 L811.6,257.1 L813.6,257.9 L815.7,256.4 L817.7,253.4 L819.8,251.2 L821.2,253.4 L823.2,249.7 L824.9,253.4"/>
<path class="ln" stroke="#ff9da7" d="M56.8,480.1 L59.4,479.5 L61.9,473.5 L63.6,474.7 L66.2,470.4 L68.4,472.8 L70.4,471.9 L72.5,473.5 L74.7,470.4 L76.9,472.3 L79.0,475.9 L80.7,474.7 L82.7,485.6 L84.9,477.1 L87.1,474.0 L89.5,475.9 L91.2,474.7 L93.1,469.2 L95.1,472.8 L96.8,472.3 L99.4,478.3 L102.0,473.5 L104.5,471.6 L107.1,470.7 L109.6,469.8 L111.7,472.3 L113.9,468.0 L116.1,474.0 L118.1,470.4 L120.2,471.6 L122.4,468.6 L124.4,475.9 L126.7,469.8 L128.7,466.1 L130.9,463.7 L133.5,463.1 L136.0,464.9 L138.6,462.5 L141.1,460.7 L143.4,464.1 L145.7,464.6 L148.0,462.5 L150.5,457.1 L152.6,454.4 L155.1,453.7 L157.3,455.2 L159.9,452.8 L162.1,452.0 L164.1,454.0 L166.2,456.4 L168.4,452.8 L170.4,452.2 L172.1,450.8 L174.4,454.7 L176.4,453.5 L178.6,460.4 L180.8,458.5 L182.9,457.7 L185.1,458.5 L187.1,461.9 L188.8,466.8 L191.1,461.3 L193.1,458.5 L195.7,457.7 L197.4,457.1 L199.1,458.9 L200.8,455.2 L202.8,459.5 L205.0,457.7 L207.6,454.0 L210.0,453.0 L211.7,456.0 L213.7,448.1 L216.0,448.1 L217.7,456.6 L219.9,445.1 L221.9,454.8 L224.5,452.4 L226.5,447.6 L228.4,445.7 L230.4,448.8 L233.0,450.5 L235.0,451.8 L236.9,450.5 L239.0,452.4 L241.0,451.4 L243.2,450.5 L245.4,451.4 L247.5,452.1 L249.5,450.5 L251.4,449.3 L253.4,450.0 L255.1,448.5 L257.4,450.5 L259.4,452.6 L261.6,455.4 L263.7,454.2 L265.7,458.4 L267.9,465.7 L270.0,457.2 L271.8,450.5 L273.9,463.9 L276.1,454.2 L278.1,458.4 L280.2,455.4 L282.2,457.2 L284.4,504.0 L286.4,450.6 L288.4,406.3 L291.0,432.8 L293.0,397.2 L294.7,357.6 L296.4,373.4 L298.1,352.8 L300.7,345.5 L302.7,342.5 L304.9,346.1 L306.6,341.9 L308.8,334.6 L311.2,328.5 L313.4,335.8 L314.6,346.8 L315.7,379.4 L316.8,358.9 L317.7,346.1 L320.3,344.3 L322.0,340.7 L323.7,338.2 L325.4,344.9 L327.1,351.0 L328.8,344.3 L330.0,341.3 L331.7,346.8 L333.4,343.1 L335.6,340.1 L337.3,342.5 L339.0,344.9 L340.7,341.9 L342.9,343.1 L345.0,338.2 L346.7,332.8 L348.4,340.7 L350.1,345.5 L352.6,342.5 L354.8,334.0 L356.9,338.8 L358.9,340.7 L361.1,340.1 L363.2,337.0 L365.1,351.6 L367.1,354.6 L368.5,352.8 L370.0,360.7 L371.9,352.2 L373.9,350.4 L376.0,346.8 L377.7,345.5 L379.0,351.6 L380.7,360.7 L382.1,361.3 L384.3,431.7 L386.2,375.9 L387.9,368.5 L389.3,361.3 L391.0,362.5 L392.7,360.1 L394.4,355.2 L396.4,359.5 L398.6,356.4 L400.8,352.8 L402.9,348.5 L404.6,343.7 L406.3,350.4 L408.3,348.5 L410.0,351.0 L411.7,350.4 L413.9,345.5 L416.2,341.9 L417.9,343.7 L419.6,344.9 L421.6,342.5 L423.3,345.5 L425.4,343.1 L427.6,341.9 L429.8,340.3 L431.7,335.9 L433.4,336.4 L435.1,341.9 L436.5,345.5 L438.2,342.5 L439.9,345.5 L442.3,346.8 L444.5,347.4 L446.5,354.0 L448.4,349.8 L450.4,346.8 L453.0,351.0 L455.2,354.7 L457.3,347.4 L459.3,349.8 L461.5,345.5 L463.6,343.7 L465.4,344.3 L467.5,352.8 L469.5,345.0 L471.7,337.6 L473.4,339.5 L475.5,337.1 L477.4,342.5 L479.4,343.7 L482.0,342.5 L484.2,338.8 L486.2,331.6 L487.9,342.5 L489.1,347.4 L490.5,339.5 L492.2,347.4 L493.9,341.9 L496.1,333.4 L497.6,321.9 L499.0,312.2 L500.7,327.3 L502.9,314.0 L505.0,332.2 L507.0,309.2 L508.7,318.3 L510.4,323.7 L511.8,313.4 L513.5,304.0 L515.2,311.6 L516.9,316.4 L519.4,322.5 L521.5,316.4 L523.4,314.9 L525.1,321.9 L528.0,331.0 L530.2,326.1 L532.2,327.0 L534.3,329.8 L536.0,324.3 L538.2,335.2 L540.2,318.8 L541.4,340.3 L542.5,368.0 L543.8,330.4 L545.0,318.8 L546.7,322.5 L548.7,330.4 L550.6,331.0 L552.7,336.4 L554.4,329.2 L556.4,323.1 L558.6,321.3 L560.8,316.4 L562.9,326.1 L564.9,315.2 L567.1,325.5 L569.4,317.1 L571.4,324.9 L573.4,325.5 L575.7,319.5 L577.9,317.6 L579.6,311.6 L581.6,318.8 L583.7,314.0 L585.9,309.7 L588.1,305.2 L590.1,309.7 L592.0,315.8 L594.3,310.9 L596.8,305.5 L598.9,306.1 L600.6,310.9 L602.8,317.0 L605.0,309.1 L606.7,306.1 L608.4,311.5 L610.4,307.3 L612.1,313.9 L613.9,317.6 L615.6,318.2 L617.6,327.3 L619.3,324.3 L621.0,322.5 L623.2,325.5 L625.3,327.9 L627.5,325.5 L629.5,322.5 L631.7,319.4 L634.0,326.7 L635.7,321.8 L637.4,326.1 L639.4,328.5 L642.0,324.9 L644.5,321.8 L646.6,327.3 L648.4,332.2 L650.5,324.9 L652.2,320.1 L653.9,318.2 L655.6,323.7 L657.3,333.4 L659.0,337.6 L660.7,329.7 L662.4,321.3 L664.1,315.1 L665.8,312.2 L667.5,320.1 L669.2,317.6 L671.4,307.9 L673.5,327.3 L675.2,317.6 L677.2,309.1 L679.4,301.2 L681.5,298.4 L683.7,298.2 L685.4,300.0 L687.3,304.7 L688.2,337.4 L689.1,302.5 L689.9,301.8 L691.9,304.3 L694.3,303.0 L696.5,295.8 L698.5,286.1 L700.7,283.0 L702.8,282.4 L705.0,287.3 L707.5,290.3 L709.2,281.2 L710.9,272.7 L712.7,286.1 L714.7,301.8 L716.9,305.5 L719.1,299.4 L721.2,293.9 L722.9,289.1 L724.9,293.9 L727.1,290.3 L729.4,291.5 L731.4,289.7 L733.4,286.7 L735.7,293.9 L737.9,284.2 L739.9,298.2 L742.1,297.6 L744.2,280.6 L746.4,289.1 L748.4,287.9 L750.5,289.1 L752.7,287.9 L754.7,290.3 L756.6,287.3 L757.8,278.2 L759.1,275.9 L760.5,295.6 L762.5,283.9 L764.6,286.8 L766.6,283.2 L768.7,286.8 L770.7,288.3 L772.8,279.6 L774.8,293.4 L776.8,283.9 L778.9,281.0 L780.9,278.8 L783.6,273.0 L785.6,272.3 L787.7,276.6 L789.7,291.9 L791.1,281.0 L792.8,266.5 L794.6,270.8 L796.3,274.4 L798.3,265.0 L800.3,262.1 L802.0,266.5 L804.0,273.0 L805.4,275.2 L807.5,267.9 L809.5,266.5 L811.6,264.2 L813.6,265.0 L815.7,263.5 L817.7,260.6 L819.8,258.5 L821.2,260.6 L823.2,257.0 L824.9,260.6"/>
<path class="ln" stroke="#000" style="stroke-width:3.4" d="M56.8,363.9 L58.2,368.1 L59.9,374.1 L61.6,368.1 L64.5,369.0 L67.9,369.8 L70.1,355.9 L72.1,358.8 L75.6,357.9 L76.9,359.6 L79.0,373.3 L81.5,375.0 L83.2,379.2 L85.8,374.1 L87.8,373.3 L89.5,375.8 L91.4,381.4 L94.3,379.2 L96.8,380.1 L99.4,388.9 L102.0,387.7 L104.2,386.9 L105.9,387.2 L107.9,379.2 L109.6,378.0 L111.7,377.5 L113.9,372.4 L117.3,375.0 L118.1,375.8 L121.6,372.9 L124.1,373.6 L127.0,375.5 L129.7,374.1 L131.8,370.7 L134.3,363.9 L136.9,355.4 L139.1,352.0 L141.1,349.4 L142.8,343.4 L145.1,343.4 L147.1,334.9 L149.7,333.2 L151.4,332.7 L153.6,334.9 L156.0,332.7 L157.7,334.1 L159.9,332.4 L162.8,335.4 L165.8,339.2 L168.4,335.8 L170.4,334.1 L171.8,325.6 L173.5,315.3 L174.6,303.0 L176.2,287.2 L177.9,290.6 L180.1,288.0 L182.1,288.9 L184.7,282.9 L186.7,261.6 L189.0,281.2 L191.5,270.1 L194.6,261.6 L198.3,259.1 L200.9,245.4 L203.4,246.3 L205.7,240.3 L208.6,250.6 L212.0,275.3 L213.7,260.8 L215.4,264.2 L217.9,289.7 L219.6,264.2 L221.7,270.1 L223.9,282.9 L226.1,280.4 L228.1,267.6 L230.2,254.8 L232.4,254.3 L234.4,255.7 L236.7,250.9 L238.7,254.8 L240.9,255.7 L243.0,248.0 L244.8,257.4 L246.9,274.4 L248.9,272.7 L251.1,261.6 L253.4,263.3 L255.7,257.4 L258.0,254.0 L259.7,247.1 L261.9,257.4 L263.6,251.4 L265.6,254.0 L267.7,265.0 L269.9,277.8 L271.9,273.6 L273.8,282.1 L275.8,282.9 L278.4,292.3 L280.1,284.6 L282.7,280.4 L285.2,276.1 L287.4,275.3 L289.1,268.4 L291.2,271.0 L293.4,277.8 L296.3,279.5 L298.8,282.9 L301.4,283.8 L303.6,281.2 L305.7,293.1 L307.9,305.9 L309.9,300.0 L312.0,283.8 L314.7,280.4 L317.6,282.9 L320.1,288.9 L322.6,291.4 L323.7,285.5 L325.5,293.1 L327.7,294.8 L330.2,292.3 L332.3,286.3 L334.5,290.6 L336.5,271.8 L338.4,274.4 L340.8,267.6 L343.0,268.4 L345.0,270.1 L346.9,248.0 L349.0,254.0 L351.0,259.1 L353.2,262.5 L355.8,259.9 L358.3,260.8 L360.9,257.4 L363.4,261.6 L366.0,265.0 L368.2,262.5 L370.8,265.0 L373.7,264.2 L376.2,258.2 L378.3,251.4 L380.5,249.4 L382.7,251.4 L384.4,256.5 L386.8,257.0 L389.0,255.7 L391.2,259.9 L392.9,265.9 L395.0,263.3 L397.0,268.4 L399.2,271.0 L401.8,270.7 L403.8,269.6 L406.0,273.6 L408.6,276.1 L411.1,277.0 L413.4,280.4 L415.7,279.9 L418.0,283.8 L420.2,296.6 L421.9,290.6 L423.9,293.1 L426.0,291.4 L428.2,296.6 L430.4,293.1 L432.4,286.3 L434.5,286.0 L436.7,289.7 L438.7,296.6 L440.6,306.8 L442.7,311.9 L444.7,306.8 L446.6,316.1 L448.6,312.7 L450.8,308.1 L452.9,308.8 L454.9,309.7 L457.1,306.8 L459.4,301.7 L461.4,293.1 L463.4,278.7 L465.7,276.1 L467.9,278.2 L469.9,279.5 L472.0,270.1 L474.2,265.9 L476.4,262.8 L478.4,265.9 L480.5,271.8 L482.0,275.0 L484.3,271.6 L486.0,263.1 L488.2,262.3 L490.6,261.9 L492.8,266.5 L495.0,270.8 L497.0,277.6 L498.7,275.0 L500.4,289.5 L503.0,298.0 L505.0,310.0 L506.9,324.4 L509.0,318.5 L510.7,320.2 L512.4,303.1 L514.1,291.2 L516.1,292.9 L517.8,294.6 L520.0,304.0 L522.2,296.3 L524.3,295.5 L526.3,303.1 L528.2,309.1 L530.3,304.0 L532.5,301.4 L534.5,304.8 L536.6,300.6 L538.8,302.3 L540.5,293.8 L542.7,296.3 L544.7,281.0 L546.8,279.6 L549.0,279.6 L550.7,286.1 L552.4,297.2 L554.4,302.3 L556.7,302.3 L559.2,303.1 L561.4,304.0 L563.5,310.0 L565.2,303.1 L567.2,308.3 L568.9,309.1 L571.1,315.1 L573.4,324.4 L575.4,324.4 L577.4,321.9 L579.3,313.4 L581.4,310.0 L583.6,309.1 L585.6,306.6 L587.7,296.3 L589.9,298.9 L592.1,303.1 L593.8,304.8 L596.2,298.9 L598.4,292.1 L600.6,286.1 L602.7,284.4 L605.2,283.6 L607.8,283.2 L609.8,282.7 L611.5,279.3 L613.2,284.4 L615.4,275.9 L617.6,272.8 L620.0,272.5 L621.7,275.9 L623.9,286.1 L626.2,293.8 L628.6,294.6 L630.8,289.5 L633.3,288.7 L635.9,286.1 L638.1,288.7 L640.1,289.5 L642.6,297.1 L645.1,288.6 L647.7,284.3 L650.2,285.2 L652.3,273.3 L654.5,266.4 L657.0,263.9 L659.6,264.7 L661.8,260.5 L664.7,258.8 L666.9,263.0 L669.0,265.6 L671.2,268.1 L673.2,263.0 L675.4,269.8 L677.8,265.6 L680.0,259.6 L682.2,247.7 L683.9,241.7 L685.7,244.3 L687.4,251.1 L689.4,254.5 L692.0,257.1 L694.2,259.6 L696.6,264.4 L698.8,257.9 L700.0,239.2 L701.3,228.1 L703.9,225.6 L707.3,223.0 L708.5,213.6 L709.2,204.9 L710.4,172.9 L712.5,174.9 L714.5,163.7 L716.6,177.0 L718.6,162.6 L720.6,162.2 L723.1,166.7 L725.8,160.6 L728.4,148.3 L730.9,128.9 L733.3,125.9 L735.4,131.0 L737.4,131.0 L740.1,150.4 L742.1,156.5 L744.1,140.2 L746.8,139.1 L749.3,133.0 L751.3,135.1 L753.3,134.0 L755.4,140.2 L757.4,137.1 L759.1,126.9 L761.1,130.0 L763.1,121.8 L765.2,122.8 L767.2,115.6 L769.3,132.0 L771.3,135.1 L773.4,116.7 L775.4,120.8 L777.5,115.6 L779.5,114.6 L781.5,101.3 L783.6,94.8 L786.0,94.8 L787.7,113.6 L789.7,131.0 L792.2,133.0 L794.6,138.1 L796.7,144.3 L798.7,144.3 L800.3,128.9 L802.0,123.8 L804.0,136.1 L806.1,145.3 L808.5,143.2 L810.6,150.4 L812.6,154.1 L815.1,150.4 L817.1,144.3 L819.1,135.1 L821.2,129.5 L823.2,128.9 L825.3,127.9 L826.5,119.7 L827.7,113.2"/>
<rect x="834" y="108.5" width="10" height="10" fill="#000"/><text class="lh" x="848.3" y="117.9" textLength="56.6" lengthAdjust="spacingAndGlyphs">BTC: Price</text><text class="lg" x="848.3" y="117.9" textLength="56.6" lengthAdjust="spacingAndGlyphs">BTC: Price</text><rect x="833" y="134.5" width="10" height="10" fill="#b377a6"/><text class="lh" x="847.3" y="143.9" textLength="47" lengthAdjust="spacingAndGlyphs">S19J Pro</text><text class="lg" x="847.3" y="143.9" textLength="47" lengthAdjust="spacingAndGlyphs">S19J Pro</text><rect x="833.3" y="225.7" width="10" height="10" fill="#e0474c"/><text class="lh" x="847.5999999999999" y="235.1" textLength="48.7" lengthAdjust="spacingAndGlyphs">S19K Pro</text><text class="lg" x="847.5999999999999" y="235.1" textLength="48.7" lengthAdjust="spacingAndGlyphs">S19K Pro</text><rect x="833.3" y="248.3" width="10" height="10" fill="#edc83c"/><text class="lh" x="847.5999999999999" y="257.7" textLength="36.3" lengthAdjust="spacingAndGlyphs">S19 XP</text><text class="lg" x="847.5999999999999" y="257.7" textLength="36.3" lengthAdjust="spacingAndGlyphs">S19 XP</text><rect x="833.3" y="262.8" width="10" height="10" fill="#ff9da7"/><text class="lh" x="847.5999999999999" y="272.2" textLength="29" lengthAdjust="spacingAndGlyphs">M66s</text><text class="lg" x="847.5999999999999" y="272.2" textLength="29" lengthAdjust="spacingAndGlyphs">M66s</text><rect x="833.3" y="306.2" width="10" height="10" fill="#4472a8"/><text class="lh" x="847.5999999999999" y="315.59999999999997" textLength="18.2" lengthAdjust="spacingAndGlyphs">S21</text><text class="lg" x="847.5999999999999" y="315.59999999999997" textLength="18.2" lengthAdjust="spacingAndGlyphs">S21</text><rect x="833.3" y="344.2" width="10" height="10" fill="#f28e2b"/><text class="lh" x="847.5999999999999" y="353.59999999999997" textLength="40.8" lengthAdjust="spacingAndGlyphs">S21 Pro</text><text class="lg" x="847.5999999999999" y="353.59999999999997" textLength="40.8" lengthAdjust="spacingAndGlyphs">S21 Pro</text><rect x="833.3" y="363.8" width="10" height="10" fill="#2ca23c"/><text class="lh" x="847.5999999999999" y="373.2" textLength="37" lengthAdjust="spacingAndGlyphs">S21 XP</text><text class="lg" x="847.5999999999999" y="373.2" textLength="37" lengthAdjust="spacingAndGlyphs">S21 XP</text>
</svg></body></html>
